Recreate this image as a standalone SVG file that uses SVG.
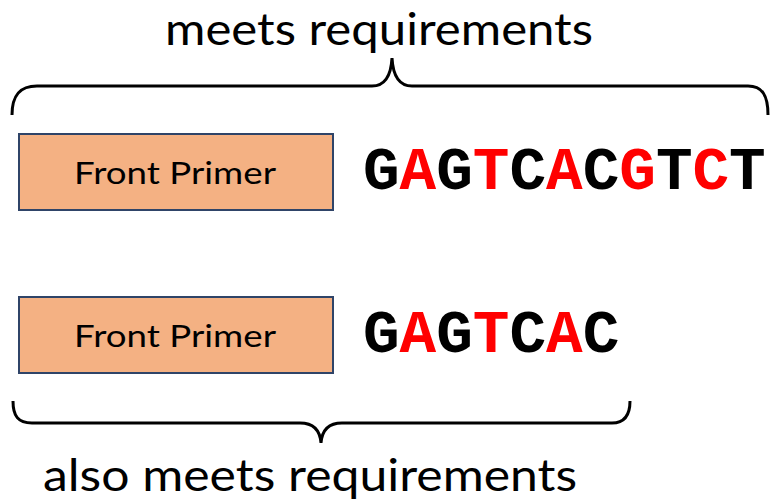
<svg xmlns="http://www.w3.org/2000/svg" width="773" height="501" viewBox="0 0 773 501">
<style>
.box{fill:#F4B183;stroke:#2F4468;stroke-width:2}
.lbl{font-family:Lato,"Open Sans","Liberation Sans",sans-serif;fill:#000}
.seq{font-family:"Liberation Mono","Courier New",monospace;font-weight:bold;font-size:61px;fill:#000}
.r{fill:#FF0000}
.brace{fill:none;stroke:#000;stroke-width:3}
</style>
<rect width="773" height="501" fill="#fff"/>
<g id="label-top"><text class="lbl" x="165" y="44.5" font-size="45" textLength="428" lengthAdjust="spacingAndGlyphs">meets requirements</text></g>
<g id="connectors">
<path class="brace" d="M12,115 C12,95 20,86 37,86 L372,86 C385,86 391,76 392,58 C393,76 399,86 412,86 L748,86 C762,86 768,95 768,115"/>
<path class="brace" d="M13,401 C13,416 18,423 32,423 L300,423 C313,423 320,430 321,443 C322,430 329,423 342,423 L612,423 C624,423 630,416 630,401"/>
</g>
<g id="primer1"><rect class="box" x="19" y="134" width="314" height="76"/><text class="lbl" x="74" y="184" font-size="31" textLength="202" lengthAdjust="spacingAndGlyphs">Front Primer</text></g>
<g id="seq1"><text class="seq" x="363" y="189">G<tspan class="r">A</tspan>G<tspan class="r">T</tspan>C<tspan class="r">A</tspan>C<tspan class="r">G</tspan>T<tspan class="r">C</tspan>T</text></g>
<g id="primer2"><rect class="box" x="19" y="297" width="314" height="76"/><text class="lbl" x="74" y="347" font-size="31" textLength="202" lengthAdjust="spacingAndGlyphs">Front Primer</text></g>
<g id="seq2"><text class="seq" x="363" y="352">G<tspan class="r">A</tspan>G<tspan class="r">T</tspan>C<tspan class="r">A</tspan>C</text></g>
<g id="label-bottom"><text class="lbl" x="43" y="491" font-size="45" textLength="534" lengthAdjust="spacingAndGlyphs">also meets requirements</text></g>
</svg>
